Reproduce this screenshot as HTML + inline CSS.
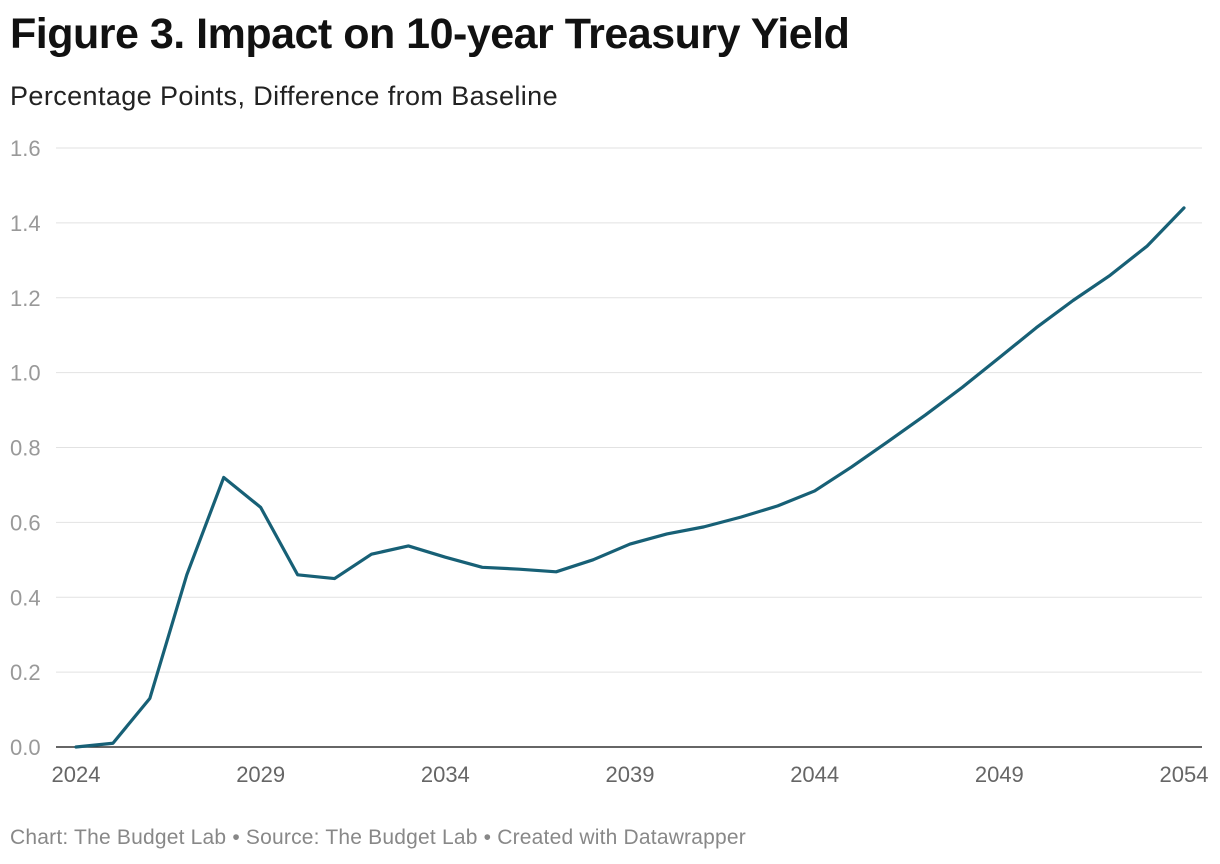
<!DOCTYPE html>
<html><head><meta charset="utf-8"><style>
body{margin:0;width:1220px;height:864px;background:#fff;font-family:"Liberation Sans",Arial,sans-serif;overflow:hidden}
#title{position:absolute;left:10px;top:10px;font-size:43px;font-weight:bold;color:#111;letter-spacing:-0.5px}
#sub{position:absolute;left:10px;top:81px;font-size:27px;color:#222;letter-spacing:0.4px}
#foot{position:absolute;left:10px;top:826px;font-size:21px;color:#888;letter-spacing:0.2px}
svg{position:absolute;left:0;top:0}
</style></head><body>
<div id="title">Figure 3. Impact on 10-year Treasury Yield</div>
<div id="sub">Percentage Points, Difference from Baseline</div>
<svg id="chart" width="1220" height="864"></svg>
<div id="foot">Chart: The Budget Lab • Source: The Budget Lab • Created with Datawrapper</div>
<script>
const years=[2024,2025,2026,2027,2028,2029,2030,2031,2032,2033,2034,2035,2036,2037,2038,2039,2040,2041,2042,2043,2044,2045,2046,2047,2048,2049,2050,2051,2052,2053,2054];
const values=[0,0.01,0.13,0.46,0.72,0.64,0.46,0.45,0.515,0.537,0.507,0.48,0.475,0.468,0.50,0.542,0.569,0.588,0.614,0.644,0.684,0.748,0.817,0.887,0.961,1.04,1.12,1.193,1.26,1.338,1.44];
const yTicks=[0,0.2,0.4,0.6,0.8,1.0,1.2,1.4,1.6];
const xTicks=[2024,2029,2034,2039,2044,2049,2054];
const ns="http://www.w3.org/2000/svg",svg=document.getElementById('chart');
const x=v=>76+(v-2024)*(1184-76)/30;
const y=v=>747-v*(747-148)/1.6;
function mk(t,a){const e=document.createElementNS(ns,t);for(const k in a)e.setAttribute(k,a[k]);svg.appendChild(e);return e;}
yTicks.forEach(t=>{
 const l=mk('line',{x1:56,x2:1202,y1:y(t),y2:y(t),stroke:t===0?'#333':'#e2e2e2','stroke-width':t===0?1.5:1});
 
 
 const tx=mk('text',{x:10,y:y(t)+8,'font-size':22,fill:'#999','font-family':'Liberation Sans, sans-serif'});
 tx.textContent=t.toFixed(1);
 
 
});
xTicks.forEach(t=>{
 const tx=mk('text',{x:x(t),y:782,'font-size':22,fill:'#666','text-anchor':'middle','font-family':'Liberation Sans, sans-serif'});
 tx.textContent=t;
 
 
});
const p=mk('polyline',{points:years.map((yr,i)=>x(yr)+','+y(values[i])).join(' '),fill:'none',stroke:'#176076','stroke-width':3.2,'stroke-linejoin':'round','stroke-linecap':'round'});


</script>
</body></html>
